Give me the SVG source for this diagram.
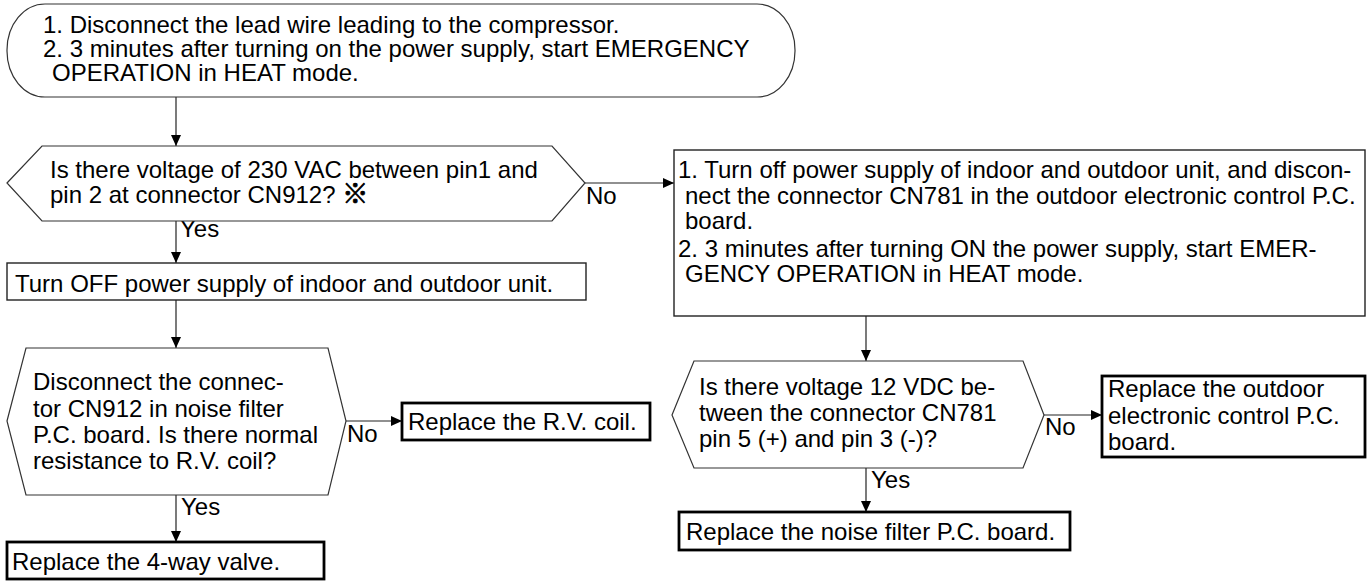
<svg xmlns="http://www.w3.org/2000/svg" width="1372" height="581" viewBox="0 0 1372 581">
<style>
text{font-family:"Liberation Sans",Arial,sans-serif;font-size:24px;fill:#000}
.shape{fill:#fff;stroke:#333;stroke-width:1.2}
.box{fill:#fff;stroke:#222;stroke-width:1.4}
.end{fill:#fff;stroke:#000;stroke-width:2.8}
.conn{fill:none;stroke:#222;stroke-width:1.2}
.ref{font-family:"Noto Sans CJK JP","DejaVu Sans",sans-serif;font-weight:900;font-size:26px;stroke:#000;stroke-width:0.8}
</style>
<defs>
<marker id="ah" markerUnits="userSpaceOnUse" markerWidth="12" markerHeight="12" refX="11" refY="5" orient="auto">
<path d="M0,0 L11,5 L0,10 Z" fill="#000"/>
</marker>
</defs>
<rect width="1372" height="581" fill="#fff"/>

<g id="connectors">
<line class="conn" x1="176" y1="97" x2="176" y2="146" marker-end="url(#ah)"/>
<line class="conn" x1="176" y1="221" x2="176" y2="263" marker-end="url(#ah)"/>
<line class="conn" x1="176" y1="300" x2="176" y2="348" marker-end="url(#ah)"/>
<line class="conn" x1="176" y1="495" x2="176" y2="542" marker-end="url(#ah)"/>
<line class="conn" x1="585" y1="183" x2="674" y2="183" marker-end="url(#ah)"/>
<line class="conn" x1="346" y1="421" x2="402" y2="421" marker-end="url(#ah)"/>
<line class="conn" x1="866" y1="316" x2="866" y2="361" marker-end="url(#ah)"/>
<line class="conn" x1="1044" y1="415" x2="1102" y2="415" marker-end="url(#ah)"/>
<line class="conn" x1="866" y1="468" x2="866" y2="512" marker-end="url(#ah)"/>
<text x="180" y="237">Yes</text>
<text x="586" y="204">No</text>
<text x="347" y="442">No</text>
<text x="181" y="515">Yes</text>
<text x="1045" y="435">No</text>
<text x="871" y="488">Yes</text>
</g>

<g id="start">
<rect class="shape" x="7" y="4" width="788" height="93" rx="38" ry="46"/>
<text x="43" y="33">1. Disconnect the lead wire leading to the compressor.</text>
<text x="43" y="57">2. 3 minutes after turning on the power supply, start EMERGENCY</text>
<text x="52" y="81">OPERATION in HEAT mode.</text>
</g>

<g id="q1">
<polygon class="shape" points="7,183 42,146 552,146 585,183 552,221 42,221"/>
<text x="50" y="178">Is there voltage of 230 VAC between pin1 and</text>
<text x="50" y="203">pin 2 at connector CN912? <tspan class="ref">※</tspan></text>
</g>

<g id="turnoff">
<rect class="box" x="7" y="263" width="579" height="37"/>
<text x="15" y="292">Turn OFF power supply of indoor and outdoor unit.</text>
</g>

<g id="q2">
<polygon class="shape" points="7,421 26,348 328,348 346,421 328,495 26,495"/>
<text x="33" y="390">Disconnect the connec-</text>
<text x="33" y="417">tor CN912 in noise filter</text>
<text x="33" y="443">P.C. board. Is there normal</text>
<text x="33" y="469">resistance to R.V. coil?</text>
</g>

<g id="rvcoil">
<rect class="end" x="402" y="403" width="248" height="37"/>
<text x="408" y="430">Replace the R.V. coil.</text>
</g>

<g id="valve">
<rect class="end" x="7" y="542" width="317" height="37"/>
<text x="12" y="570">Replace the 4-way valve.</text>
</g>

<g id="step2">
<rect class="box" x="674" y="150" width="691" height="166"/>
<text x="678" y="178">1. Turn off power supply of indoor and outdoor unit, and discon-</text>
<text x="685" y="204">nect the connector CN781 in the outdoor electronic control P.C.</text>
<text x="685" y="229">board.</text>
<text x="678" y="257">2. 3 minutes after turning ON the power supply, start EMER-</text>
<text x="685" y="282">GENCY OPERATION in HEAT mode.</text>
</g>

<g id="q3">
<polygon class="shape" points="672,415 694,361 1023,361 1044,415 1023,468 694,468"/>
<text x="699" y="395">Is there voltage 12 VDC be-</text>
<text x="699" y="421">tween the connector CN781</text>
<text x="699" y="447">pin 5 (+) and pin 3 (-)?</text>
</g>

<g id="outdoor">
<rect class="end" x="1102" y="376" width="263" height="81"/>
<text x="1108" y="397">Replace the outdoor</text>
<text x="1108" y="424">electronic control P.C.</text>
<text x="1108" y="450">board.</text>
</g>

<g id="noise">
<rect class="end" x="679" y="512" width="391" height="38"/>
<text x="686" y="540">Replace the noise filter P.C. board.</text>
</g>
</svg>
